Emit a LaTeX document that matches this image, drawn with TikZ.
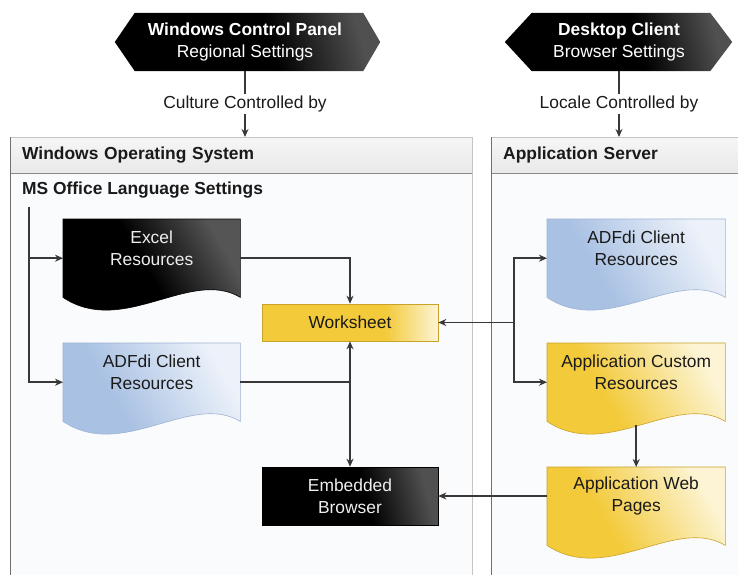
\documentclass[tikz,border=0pt]{standalone}
\usepackage{fontspec}
\setmainfont{Liberation Sans}
\usetikzlibrary{arrows.meta}
\definecolor{panelC}{HTML}{C4C4C4}
\definecolor{panelDark}{HTML}{707070}
\definecolor{panelF}{HTML}{FAFBFD}
\definecolor{headT}{HTML}{F6F6F6}
\definecolor{headB}{HTML}{E9E9E9}
\definecolor{headLine}{HTML}{8A8A8A}
\definecolor{blueA}{HTML}{A9C1E3}
\definecolor{blueB}{HTML}{EDF2FA}
\definecolor{blueEdge}{HTML}{9DB3D3}
\definecolor{yelA}{HTML}{F3CA3A}
\definecolor{yelB}{HTML}{FCF4D4}
\definecolor{yelEdge}{HTML}{C9A22A}
\definecolor{blkB}{HTML}{555555}
\definecolor{blkC}{HTML}{505050}
\definecolor{lineC}{HTML}{383838}
\definecolor{textC}{HTML}{1A1A1A}
\definecolor{whiteT}{HTML}{EEEEEE}
\pgfdeclarehorizontalshading{docBlue}{100bp}{color(0bp)=(blueA); color(25bp)=(blueA); color(40bp)=(blueA); color(75bp)=(blueB); color(100bp)=(blueB)}
\pgfdeclarehorizontalshading{docYel}{100bp}{color(0bp)=(yelA); color(25bp)=(yelA); color(42bp)=(yelA); color(75bp)=(yelB); color(100bp)=(yelB)}
\pgfdeclarehorizontalshading{docBlk}{100bp}{color(0bp)=(black); color(25bp)=(black); color(50bp)=(black); color(75bp)=(blkB); color(100bp)=(blkB)}
\pgfdeclarehorizontalshading{wsShade}{100bp}{color(0bp)=(yelA); color(25bp)=(yelA); color(60bp)=(yelA); color(75bp)=(yelB); color(100bp)=(yelB)}
\pgfdeclarehorizontalshading{embShade}{100bp}{color(0bp)=(black); color(25bp)=(black); color(55bp)=(black); color(75bp)=(blkC); color(100bp)=(blkC)}
\pgfdeclarehorizontalshading{hexShade}{100bp}{color(0bp)=(black); color(25bp)=(black); color(55bp)=(black); color(75bp)=(blkC); color(100bp)=(blkC)}
\newcommand{\docshape}[2]{\path[#2] (#1.north west) -- (#1.north east) -- (#1.south east) .. controls +(-50,-30) and +(60,40) .. (#1.south west) -- cycle;}
\begin{document}
\begin{tikzpicture}[x=1pt,y=-1pt,font=\fontsize{17.4}{22}\selectfont,
  panel/.style={draw=panelC, fill=panelF, line width=0.8pt, anchor=north west, inner sep=0pt, minimum height=480},
  header/.style={anchor=north west, minimum height=36, inner xsep=12pt, inner ysep=0pt, align=left, top color=headT, bottom color=headB, font=\fontsize{17.4}{22}\selectfont\bfseries, text=textC},
  hexnode/.style={minimum height=58, inner sep=0pt},
  hextext/.style={text=white, align=center, inner sep=0pt},
  docnode/.style={anchor=north west, minimum width=178, minimum height=78, inner sep=0pt},
  doctext/.style={align=center, text=textC, inner sep=0pt},
  lbl/.style={text=textC, inner sep=2pt},
  arr/.style={draw=lineC, line width=1.5pt, -{Stealth[length=8pt,width=7pt]}},
  arr2/.style={draw=lineC, line width=1.5pt, {Stealth[length=8pt,width=7pt]}-{Stealth[length=8pt,width=7pt]}},
  ln/.style={draw=lineC, line width=1.5pt}]
\useasboundingbox (0,0) rectangle (738,574);
\clip (0,0) rectangle (738,574);
% panels
\node[panel, minimum width=462] (winos) at (10,137) {};
\node[panel, minimum width=262] (appsrv) at (491,137) {};
\node[header, text width=438] (winosH) at (winos.north west) {Windows Operating System};
\node[header, text width=238] (appsrvH) at (appsrv.north west) {Application Server};
\draw[headLine, line width=0.8pt] (winosH.south west) -- (winosH.south east);
\draw[headLine, line width=0.8pt] (appsrvH.south west) -- (appsrvH.south east);
\draw[panelC, line width=0.8pt] (winos.north west) -- (winos.north east) -- (winos.south east);
\draw[panelC, line width=0.8pt] (appsrv.north west) -- (appsrv.north east);
\draw[panelDark, line width=1pt] (winos.north west) -- (winos.south west);
\draw[panelDark, line width=1pt] (appsrv.north west) -- (appsrv.south west);
\node[anchor=west, inner sep=0pt, font=\fontsize{17.4}{22}\selectfont\bfseries, text=textC] (msoL) at (22,190) {MS Office Language Settings};
% hexagons
\node[hexnode, minimum width=228] (wcp) at (249,42) {};
\path[shading=hexShade, shading angle=15] (wcp.north west) -- (wcp.north east) -- ([xshift=17pt]wcp.east) -- (wcp.south east) -- (wcp.south west) -- ([xshift=-20pt]wcp.west) -- cycle;
\node[hextext] (wcpT) at ([xshift=-4pt]wcp.center) {\textbf{Windows Control Panel}\\Regional Settings};
\node[hexnode, minimum width=178] (dc) at (621,42) {};
\path[shading=hexShade, shading angle=15] (dc.north west) -- (dc.north east) -- ([xshift=22pt]dc.east) -- (dc.south east) -- (dc.south west) -- ([xshift=-27pt]dc.west) -- cycle;
\node[hextext] (dcT) at ([xshift=-2pt]dc.center) {\textbf{Desktop Client}\\Browser Settings};
\node[lbl] (cultL) at (245,104) {Culture Controlled by};
\node[lbl] (lcL) at (619,104) {Locale Controlled by};
\draw[ln] (cultL.north |- wcp.south) -- (cultL.north);
\draw[arr] (cultL.south) -- (cultL.south |- winos.north);
\draw[ln] (lcL.north |- dc.south) -- (lcL.north);
\draw[arr] (lcL.south) -- (lcL.south |- appsrv.north);
% documents
\node[docnode, minimum width=177] (excel) at (63,219) {};
\docshape{excel}{shading=docBlk, shading angle=30, draw=black, line width=0.6pt}
\node[doctext, text=whiteT] (excelT) at ([yshift=-29pt]excel.north) {Excel\\Resources};
\node[docnode, minimum width=177] (adfL) at (63,343) {};
\docshape{adfL}{shading=docBlue, shading angle=30, draw=blueEdge, line width=0.6pt}
\node[doctext] (adfLT) at ([yshift=-29pt]adfL.north) {ADFdi Client\\Resources};
\node[docnode] (adfR) at (547,219) {};
\docshape{adfR}{shading=docBlue, shading angle=30, draw=blueEdge, line width=0.6pt}
\node[doctext] (adfRT) at ([yshift=-29pt]adfR.north) {ADFdi Client\\Resources};
\node[docnode] (custom) at (547,343) {};
\docshape{custom}{shading=docYel, shading angle=30, draw=yelEdge, line width=0.6pt}
\node[doctext] (customT) at ([yshift=-29pt]custom.north) {Application Custom\\Resources};
\node[docnode] (web) at (547,467) {};
\docshape{web}{shading=docYel, shading angle=30, draw=yelEdge, line width=0.6pt}
\node[doctext] (webT) at ([yshift=-29pt]web.north) {Application Web\\Pages};
% boxes
\node[shading=wsShade, draw=yelEdge, line width=0.6pt, minimum width=176, minimum height=37, inner sep=0pt, text=textC] (ws) at (350,322.5) {Worksheet};
\node[shading=embShade, shading angle=15, draw=black, line width=0.6pt, minimum width=176, minimum height=58, inner sep=0pt, align=center, text=whiteT] (emb) at (350,496) {Embedded\\Browser};
% connectors
\coordinate (trunk) at (29,207);
\coordinate (br) at (514,322.5);
\draw[arr] (trunk) |- (excel.west);
\draw[arr] (trunk) |- (adfL.west);
\draw[arr] (excel.east) -| (ws.north);
\draw[ln] (adfL.east) -- (adfL.east -| ws.south);
\draw[arr2] (ws.south) -- (emb.north);
\draw[arr] (br) -- (ws.east);
\draw[arr] (br) |- (adfR.west);
\draw[arr] (br) |- (custom.west);
\draw[arr] ([yshift=-4pt]custom.south) -- (web.north);
\draw[arr] (web.west |- emb.east) -- (emb.east);
\end{tikzpicture}
\end{document}
